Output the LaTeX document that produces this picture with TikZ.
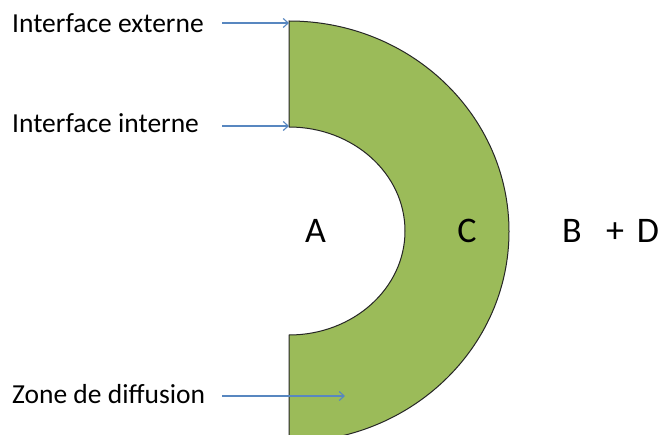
\documentclass[tikz,border=0pt]{standalone}
\usepackage{fontspec}
\setmainfont{Carlito}
\usetikzlibrary{arrows.meta}
\definecolor{zonegreen}{RGB}{155,187,89}
\definecolor{arrowblue}{RGB}{88,135,192}
\tikzset{
  lab/.style={anchor=base west,inner sep=0pt,font=\fontsize{27.5}{30}\selectfont},
  big/.style={anchor=base,inner sep=0pt,font=\fontsize{36}{40}\selectfont},
  ptr/.style={draw=arrowblue,line width=1.1pt,-{Straight Barb[length=5pt,width=9pt,line width=1.1pt]}}
}
\begin{document}
\begin{tikzpicture}[x=1pt,y=1pt]
\useasboundingbox (0,0) rectangle (661,434);
\clip (0,0) rectangle (661,434);
\fill[white] (0,0) rectangle (661,434);
\draw[fill=zonegreen,draw=black!85,line width=1pt]
  (289,413) -- (289,307)
  arc[start angle=90,end angle=-90,x radius=116,y radius=104]
  -- (289,-8)
  arc[start angle=-90,end angle=90,x radius=220,y radius=210.5] -- cycle;
\node[lab] (ext) at (12,401) {Interface externe};
\node[lab] (int) at (12,301) {Interface interne};
\node[lab] (zon) at (12,31) {Zone de diffusion};
\coordinate (a1) at (222,411);
\coordinate (b1) at (289,411);
\coordinate (a2) at (222,308);
\coordinate (b2) at (289,308);
\coordinate (a3) at (222,38);
\coordinate (b3) at (345,38);
\draw[ptr] (a1) -- (b1);
\draw[ptr] (a2) -- (b2);
\draw[ptr] (a3) -- (b3);
\node[big] (A) at (315.5,191) {A};
\node[big] (C) at (467,191) {C};
\node[big] (B) at (572,191) {B};
\node[big] (plus) at (615,191) {+};
\node[big] (D) at (648,191) {D};
\end{tikzpicture}
\end{document}
